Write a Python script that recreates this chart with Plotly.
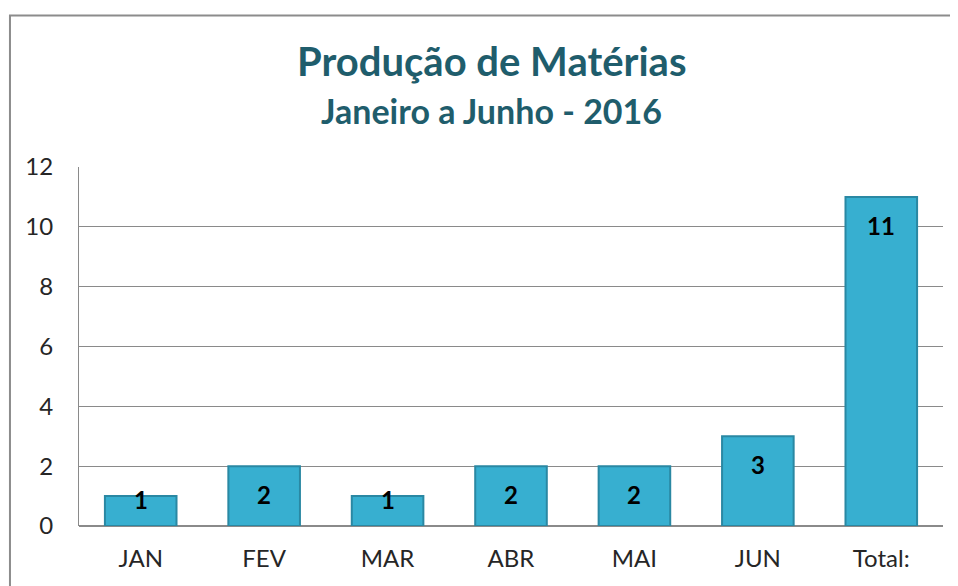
import plotly.graph_objects as go

categories = ["JAN", "FEV", "MAR", "ABR", "MAI", "JUN", "Total:"]
values = [1, 2, 1, 2, 2, 3, 11]
y_ticks = [0, 2, 4, 6, 8, 10, 12]

title_main = "Produção de Matérias"
title_sub = "Janeiro a Junho - 2016"

FONT = "Lato, Calibri, sans-serif"
TEAL = "#1F5D6C"

fig = go.Figure()
fig.add_trace(go.Bar(
    x=categories, y=values, width=0.58,
    marker=dict(color="#37AFD0", line=dict(color="#2A88A3", width=2)),
    hoverinfo="x+y",
))

for c, v in zip(categories, values):
    fig.add_annotation(
        x=c, y=v, xref="x", yref="y", text=f"<b>{v}</b>", showarrow=False,
        yanchor="top", yshift=(-12 if v >= 2 else 13),
        font=dict(family=FONT, size=24, color="#000000"),
    )

fig.add_annotation(x=0.478, y=1.2955, xref="paper", yref="paper", text=f"<b>{title_main}</b>",
                   showarrow=False, xanchor="center", yanchor="middle",
                   font=dict(family=FONT, size=40, color=TEAL))
fig.add_annotation(x=0.478, y=1.158, xref="paper", yref="paper", text=f"<b>{title_sub}</b>",
                   showarrow=False, xanchor="center", yanchor="middle",
                   font=dict(family=FONT, size=34, color=TEAL))

# outer chart border
fig.add_shape(type="rect", xref="paper", yref="paper", x0=-0.0799, y0=-0.5, x1=1.2, y1=1.422,
              line=dict(color="#8C8C8C", width=2), fillcolor="rgba(0,0,0,0)", layer="above")

fig.update_layout(
    width=950, height=578,
    margin=dict(l=71, r=15, t=159, b=60),
    paper_bgcolor="white", plot_bgcolor="white",
    showlegend=False, bargap=0.42,
    font=dict(family=FONT, size=24, color="#262626"),
    xaxis=dict(showgrid=False, showline=False, ticks="", ticklabelstandoff=16,
               tickfont=dict(family=FONT, size=24, color="#262626")),
    yaxis=dict(range=[0, 12], tickvals=y_ticks, showgrid=True, gridcolor="#8A8A8A", gridwidth=1,
               showline=True, linecolor="#8A8A8A", linewidth=1, zeroline=True, zerolinecolor="#8A8A8A",
               ticks="", ticklabelstandoff=20,
               tickfont=dict(family=FONT, size=24, color="#262626")),
)

fig.write_html("out.html")
